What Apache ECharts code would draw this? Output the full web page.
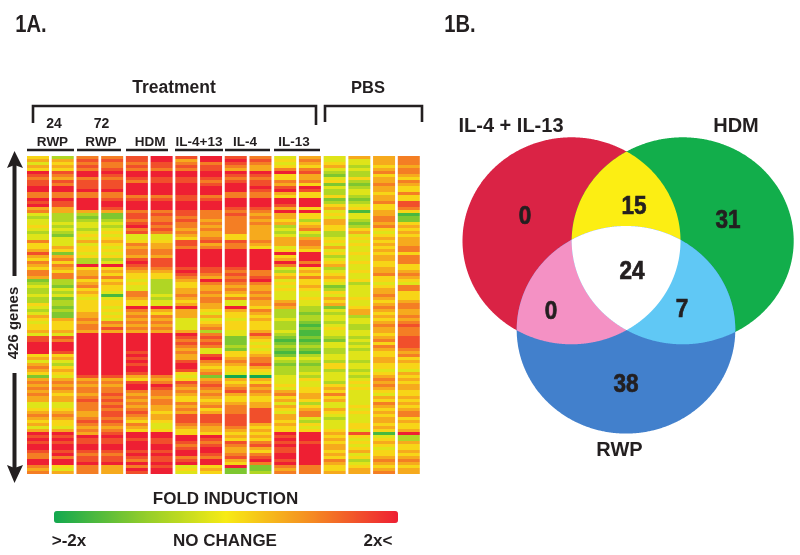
<!DOCTYPE html>
<html><head><meta charset="utf-8">
<style>html,body{margin:0;padding:0;background:#fff}#c{width:800px;height:555px}</style>
<script src="https://cdn.jsdelivr.net/npm/echarts@6/dist/echarts.min.js"></script>
</head><body><div id="c"></div>
<script>
// Fold-induction level for each gene band, read by eye (0 green, 4.5 yellow, 9 red)
const rwp24a = [5,6,4,6,5,9,8,7,8,8,9,9,7,7,9,8,9,6,7,4,3,4,4,5,4,3,4,4,7,5,5,6,8,6,5,7,6,5,7,7,6,2,3,4,3,3,4,3,3,5,4,3,4,
 6,5,4,5,5,6,4,8,8,9,9,9,9,5,6,4,6,7,6,5,2,6,7,6,7,6,7,6,6,4,4,5,6,7,6,5,6,4,6,9,8,9,8,9,9,8,7,7,9,9,7,6,7];
const rwp24b = [3,6,5,6,5,8,7,6,8,7,9,9,7,7,9,8,8,6,6,3,3,3,4,3,4,3,2,4,4,4,6,5,2,6,7,5,7,6,5,7,7,3,3,2,4,3,4,2,3,3,2,3,2,
 2,6,5,5,5,6,4,8,7,9,9,9,8,5,6,4,3,5,6,5,4,6,7,6,7,6,5,6,6,4,4,5,6,7,6,5,5,4,6,9,8,9,8,9,9,8,9,7,9,9,5,4,6];
const rwp72a = [7,8,7,8,7,9,9,7,8,8,8,9,7,7,9,9,9,9,6,3,2,3,4,4,3,4,5,4,6,4,5,5,4,5,3,3,9,5,6,6,7,5,6,7,5,6,5,4,5,5,5,5,6,
 6,7,6,7,7,6,9,9,9,9,9,9,9,9,9,9,9,9,9,9,8,6,7,6,7,7,6,7,8,7,7,7,6,6,7,8,7,6,7,6,9,8,8,9,9,8,7,8,8,9,7,7,7];
const rwp72b = [7,8,7,7,8,9,8,7,8,8,8,9,7,7,8,9,9,8,6,2,2,3,4,3,4,5,4,5,6,5,4,5,4,5,3,4,9,5,6,5,7,5,6,5,5,4,1,4,5,5,4,5,4,
 5,4,7,6,8,6,9,9,9,9,9,9,9,9,9,9,9,9,9,9,8,6,7,6,7,7,8,7,8,7,8,7,8,8,7,8,7,6,7,8,9,8,8,9,9,8,7,8,8,9,6,6,6];
const hdmA = [8,8,7,8,7,9,9,8,7,9,9,9,9,7,8,9,9,9,7,8,8,7,8,9,7,8,4,4,5,7,6,7,7,6,8,9,8,7,6,5,5,4,5,4,4,7,7,6,5,5,9,7,6,
 7,6,7,6,7,6,9,9,9,9,9,9,8,9,8,9,8,9,9,8,6,5,8,9,9,7,6,7,6,7,6,7,8,7,6,5,7,6,5,9,9,8,9,9,9,8,9,8,7,9,7,9,8];
const hdmB = [9,9,8,8,7,9,9,8,8,9,9,9,9,7,8,9,9,9,7,8,7,7,8,7,8,7,4,4,5,6,6,7,7,6,8,8,8,7,6,5,5,3,3,3,3,3,4,3,4,4,9,6,5,
 7,6,7,6,7,6,9,9,9,9,9,9,9,9,9,9,9,9,9,9,7,6,7,9,8,7,7,6,7,7,6,6,5,6,6,5,4,4,5,9,9,8,8,9,9,8,9,8,8,9,8,9,9];
const il413a = [8,6,7,8,7,9,9,8,8,9,9,9,9,8,8,9,9,9,8,8,7,8,7,7,6,7,6,5,8,8,7,9,9,9,9,9,9,8,9,8,7,6,5,5,6,6,7,6,5,6,9,6,6,
 6,4,4,4,4,6,9,8,7,8,7,6,7,6,6,8,9,9,8,5,4,5,8,7,6,7,6,5,5,7,6,7,6,8,8,8,7,6,5,5,9,9,8,7,8,9,9,7,8,9,4,5,4];
const il413b = [9,9,7,8,8,9,9,8,7,8,9,9,9,7,8,9,9,9,7,7,7,6,7,6,7,6,6,7,8,6,7,9,9,9,9,9,9,8,8,7,6,9,7,6,6,7,6,7,7,6,6,5,4,
 6,4,5,6,7,3,7,8,7,8,7,4,4,8,9,7,6,5,6,7,2,6,7,8,7,6,7,6,5,6,7,5,6,8,8,8,7,6,6,5,9,8,7,8,9,9,8,7,9,9,5,6,5];
const il4a = [8,9,8,7,6,9,8,7,8,9,9,9,7,7,9,9,9,8,7,8,7,7,7,7,7,7,5,5,8,7,7,9,9,9,9,9,9,8,7,8,7,8,7,6,7,6,5,7,4,4,9,6,5,
 5,4,5,5,5,4,4,2,2,2,3,2,5,5,6,7,6,5,5,4,0,6,5,6,7,8,6,5,5,6,7,7,7,8,8,8,8,7,6,5,6,5,8,7,6,6,7,8,6,5,9,2,2];
const il4b = [7,8,7,6,6,9,8,7,8,8,9,8,7,7,9,9,9,8,7,6,7,6,7,6,6,6,6,6,7,6,5,9,9,9,9,9,9,9,7,7,8,9,7,6,6,7,6,7,6,6,5,7,6,
 5,6,5,5,5,6,8,6,5,4,5,4,5,6,7,7,8,6,5,4,0,6,5,7,6,7,6,5,5,6,6,8,8,8,8,8,6,5,6,5,6,5,7,8,6,5,7,8,9,7,2,2,3];
const il13a = [4,5,4,5,7,9,5,5,7,6,8,9,6,5,9,9,8,6,9,6,6,5,6,3,4,3,4,6,6,6,4,5,9,5,6,9,7,4,3,5,6,4,5,4,5,4,4,4,6,7,6,3,3,
 3,4,3,3,3,4,3,2,1,2,3,2,1,2,4,3,2,3,3,3,4,4,4,5,4,6,7,5,6,4,6,5,4,6,6,5,6,5,5,9,8,9,8,9,8,8,9,9,8,9,7,6,7];
const il13b = [6,7,6,5,7,8,6,6,7,5,9,8,5,5,9,9,9,5,9,5,5,3,5,6,7,4,3,6,7,7,6,5,9,9,9,7,9,5,6,5,7,5,5,6,5,4,4,5,4,4,3,3,2,
 3,3,2,1,2,1,1,2,1,2,3,2,1,3,4,3,2,3,3,4,3,5,4,4,5,5,6,6,5,3,5,6,7,7,4,3,5,4,5,9,9,9,8,9,9,9,9,9,9,9,7,7,7];
const pbsA = [4,4,5,6,4,3,2,4,5,2,4,3,3,5,2,3,5,6,4,5,4,6,6,5,5,3,3,4,5,4,6,4,5,3,4,5,6,3,4,5,6,5,4,2,3,5,4,6,5,6,2,4,3,
 4,4,3,4,5,4,4,3,2,4,4,3,3,4,4,3,5,5,3,4,4,4,3,5,6,5,7,5,6,4,4,6,5,4,3,4,4,4,5,6,5,6,5,6,6,5,6,5,7,6,5,5,6];
const pbsB = [6,4,4,3,4,3,3,5,3,2,3,4,4,3,2,3,4,5,1,4,4,3,2,3,5,6,4,5,4,5,4,4,5,4,4,5,4,4,5,4,4,5,3,4,4,4,4,5,4,4,5,6,6,
 3,4,4,3,3,4,4,3,4,3,4,3,4,4,4,3,4,4,3,4,3,4,5,4,5,4,4,4,4,4,5,4,5,4,4,4,5,5,4,8,5,4,5,4,5,6,4,5,3,4,5,6,6];
const pbsC = [6,6,6,5,6,7,5,6,6,7,6,6,5,6,6,7,5,5,6,6,7,7,6,7,5,4,5,6,5,6,5,6,5,6,6,5,5,6,6,7,5,5,4,5,6,6,7,6,5,6,7,6,5,
 6,5,6,7,6,6,5,6,7,5,7,6,5,5,6,6,5,5,4,5,6,7,6,7,6,5,4,6,5,7,6,5,6,5,6,6,5,6,5,1,4,5,6,5,4,5,5,6,7,6,5,6,7];
const pbsD = [7,7,7,6,7,7,6,5,7,6,5,5,7,5,5,8,8,7,5,1,2,2,5,6,5,6,5,6,6,6,7,7,5,7,7,7,5,5,6,7,6,5,4,7,7,5,5,5,6,7,7,6,6,
 7,6,7,8,7,7,7,8,8,8,8,7,6,7,5,6,5,5,4,6,5,6,5,6,6,5,5,6,5,6,5,6,7,7,5,6,5,5,6,9,3,3,6,5,5,6,5,6,7,6,5,6,6];
const heatColumns = [rwp24a,rwp24b,rwp72a,rwp72b,hdmA,hdmB,il413a,il413b,il4a,il4b,il13a,il13b,pbsA,pbsB,pbsC,pbsD];
const rampColors = ['#12a84f','#8ccb2c','#f7eb14','#f58a22','#ee1f33'];

// Venn: ellipse centre x, centre y, radius x, radius y
const ellipseIL = [121.5,140.8,109,103.5];
const ellipseHDM = [232.7,140.8,111,103.5];
const ellipseRWP = [176,229.8,109.3,103.8];
const vennEllipses = [ellipseIL,ellipseHDM,ellipseRWP];
const vennSets = [[0],[1],[2],[0,1],[0,2],[1,2],[0,1,2]];
const vennColors = ['#da2345','#12ae4b','#4280cc','#fcee13','#f491c4','#60c8f5','#ffffff'];

const SANS = '"Liberation Sans",Arial,sans-serif';
const txt = (text,x,y,size,sx,rot) => ({type:'text',x,y,rotation:rot||0,scaleX:sx||1,z:10,
  style:{text,fill:'#231f20',fontFamily:SANS,fontWeight:'bold',fontSize:size,align:'center',verticalAlign:'middle'}});
const num = (text,x,y) => {const t=txt(text,x,y,25,0.9);t.style.stroke='#231f20';t.style.lineWidth=0.7;return t;};
const ln = (pts,w) => ({type:'polyline',z:10,shape:{points:pts},style:{stroke:'#231f20',lineWidth:w||2.6,fill:null}});
const head = pts => ({type:'polygon',z:10,shape:{points:pts},style:{fill:'#231f20'}});

const heatData = [];
heatColumns.forEach((col,c)=>col.forEach((v,r)=>heatData.push([c,r,v])));

// Outline of the region shared by the ellipses of one set, traced around a point inside it
function regionPoly(set){
  const es=set.map(k=>vennEllipses[k]);
  const cx=es.reduce((s,e)=>s+e[0],0)/es.length, cy=es.reduce((s,e)=>s+e[1],0)/es.length;
  const pts=[];
  for(let i=0;i<720;i++){
    const a=i*Math.PI/360,dx=Math.cos(a),dy=Math.sin(a);
    let tMin=Infinity;
    es.forEach(e=>{
      const ux=dx/e[2],uy=dy/e[3],vx=(cx-e[0])/e[2],vy=(cy-e[1])/e[3];
      const A=ux*ux+uy*uy,B=2*(ux*vx+uy*vy),C=vx*vx+vy*vy-1;
      tMin=Math.min(tMin,(-B+Math.sqrt(B*B-4*A*C))/(2*A));
    });
    pts.push([cx+dx*tMin,cy+dy*tMin]);
  }
  return pts;
}

const labels = [
 txt('1A.',31,25,24,0.84),txt('1B.',460,25,24,0.84),
 txt('Treatment',174,88,17.5),txt('PBS',368,88,16.5),
 txt('24',54,124,14),txt('72',101.5,124,14),
 txt('RWP',52.5,142,13.5),txt('RWP',101,142,13.5),txt('HDM',150,142,13.5),
 txt('IL-4+13',199,142,13.5),txt('IL-4',245,142,13.5),txt('IL-13',294,142,13.5),
 txt('426 genes',14,323,15,1,Math.PI/2),
 txt('FOLD INDUCTION',225.5,499,17),txt('>-2x',69,541,17),txt('NO CHANGE',225,541,17),txt('2x<',378,541,17),
 txt('IL-4 + IL-13',511,126,20),txt('HDM',736,126,20),txt('RWP',619.5,450,20),
 num('0',525,217),num('15',634,207),num('31',728,221),
 num('24',632,272),num('0',551,312),num('7',682,310),num('38',626,385),
 ln([[33,123],[33,106],[316,106],[316,125]]),ln([[325,122],[325,106],[422,106],[422,122]]),
 ln([[27,150],[74,150]]),ln([[77,150],[121,150]]),ln([[126,150],[168,150]]),
 ln([[175,150],[223,150]]),ln([[225,150],[270,150]]),ln([[274,150],[320,150]]),
 ln([[14.5,165],[14.5,276]],4),ln([[14.5,373],[14.5,468]],4),
 head([[14.5,151],[23,168],[14.5,165],[7,168]]),head([[14.5,483],[23,465],[14.5,468],[7,465]])
];

const chart = echarts.init(document.getElementById('c'),null,{renderer:'canvas'});
chart.setOption({
  animation:false,backgroundColor:'#fff',
  grid:[{left:27,top:156,width:395.5,height:318,show:false},{left:450,top:100,width:350,height:400,show:false}],
  xAxis:[{type:'category',gridIndex:0,show:false,data:heatColumns.map((_,i)=>i)},
         {type:'value',gridIndex:1,show:false,min:0,max:350}],
  yAxis:[{type:'category',gridIndex:0,show:false,inverse:true,data:rwp24a.map((_,i)=>i)},
         {type:'value',gridIndex:1,show:false,inverse:true,min:0,max:400}],
  visualMap:{type:'continuous',seriesIndex:0,dimension:2,min:0,max:9,orient:'horizontal',left:54,top:511,
    padding:0,itemWidth:12,itemHeight:344,calculable:false,showLabel:false,text:null,hoverLink:false,
    inRange:{color:rampColors}},
  series:[
   {type:'custom',xAxisIndex:0,yAxisIndex:0,data:heatData,encode:{x:0,y:1},silent:true,
    renderItem(p,api){
      const c=api.coord([api.value(0),api.value(1)]),s=api.size([1,1]);
      return {type:'rect',shape:{x:c[0]-s[0]/2,y:c[1]-s[1]/2,width:s[0]-2.7,height:s[1]},
        style:{fill:api.visual('color')}};
    }},
   {type:'custom',xAxisIndex:1,yAxisIndex:1,data:vennSets.map((_,i)=>[i]),silent:true,clip:false,
    renderItem(p,api){
      const i=api.value(0);
      return {type:'polygon',shape:{points:regionPoly(vennSets[i]).map(q=>api.coord(q))},style:{fill:vennColors[i]},z2:i};
    }}
  ],
  graphic:labels
});
</script></body></html>
